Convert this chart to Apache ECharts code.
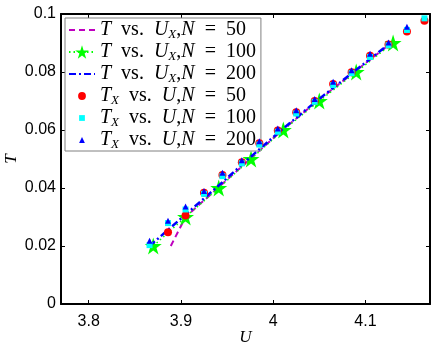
<!DOCTYPE html>
<html>
<head>
<meta charset="utf-8">
<script src="https://cdn.jsdelivr.net/npm/echarts@6/dist/echarts.min.js"></script>
<style>
  html, body { margin: 0; padding: 0; background: #fff; }
  #chart { width: 436px; height: 345px; }
</style>
</head>
<body>
<div id="chart"></div>
<script>
// ticks
const xTicks = [3.8, 3.9, 4, 4.1];

// T vs. U_X curves (one per N)
const lineT = [0.02, 0.03, 0.04, 0.05, 0.06, 0.07, 0.08, 0.09];
const lineU50 = [3.889, 3.905, 3.940, 3.975, 4.010, 4.048, 4.088, 4.128];
const lineU100 = [3.870, 3.905, 3.941, 3.976, 4.011, 4.050, 4.090, 4.130];
const lineU200 = [3.866, 3.902, 3.938, 3.973, 4.009, 4.047, 4.087, 4.127];

// T_X vs. U points (one per N)
const pointU = [3.866, 3.886, 3.905, 3.925, 3.945, 3.966, 3.985, 4.005, 4.025, 4.045, 4.065, 4.085, 4.105, 4.125, 4.145, 4.164];
const pointT50 = [null, 0.0247, 0.0305, 0.0384, 0.0445, 0.0489, 0.0554, 0.0598, 0.0661, 0.0700, 0.0759, 0.0799, 0.0856, 0.0895, 0.0940, 0.0977];
const pointT100 = [0.0203, 0.0279, 0.0326, 0.0380, 0.0441, 0.0485, 0.0550, 0.0594, 0.0657, 0.0697, 0.0755, 0.0796, 0.0852, 0.0892, 0.0945, 0.0985];
const pointT200 = [0.0218, 0.0287, 0.0336, 0.0390, 0.0453, 0.0496, 0.0561, 0.0605, 0.0668, 0.0707, 0.0766, 0.0806, 0.0863, 0.0902, 0.0956, null];

const seriesNames = [
  "T vs. U_X,N = 50",
  "T vs. U_X,N = 100",
  "T vs. U_X,N = 200",
  "T_X vs. U,N = 50",
  "T_X vs. U,N = 100",
  "T_X vs. U,N = 200",
];

const STAR =
  "path://M50 0 L61.23 34.55 L97.55 34.55 L68.16 55.9 L79.39 90.45 L50 69.1 L20.61 90.45 L31.84 55.9 L2.45 34.55 L38.77 34.55 Z";
// legend icons: the two corner moves pad the box so the mark stays small
const ICON_CIRCLE = "path://M0 0M100 100M27 50a23 23 0 1 0 46 0a23 23 0 1 0 -46 0z";
const ICON_SQUARE = "path://M0 0M100 100M33 33h34v34h-34z";
const ICON_TRIANGLE = "path://M0 0M100 100M50 32L67 67H33z";

const SERIF = "'Liberation Serif', 'DejaVu Serif', serif";
const SANS = "'Liberation Sans', Arial, sans-serif";

const zip = (xs, ys) =>
  xs.map((x, i) => [x, ys[i]]).filter((p) => p[1] !== null);

const legendText = (name) =>
  name
    .replace(/ /g, "\u2002")
    .replace(/([TUN])(_X)?/g, (m, a, b) => "{i|" + a + "}" + (b ? "{s|X}" : ""));

const myChart = echarts.init(document.getElementById("chart"));

const frameAxis = {
  axisLine: { show: true, onZero: false, lineStyle: { color: "#000", width: 2 } },
  axisTick: { inside: true, length: 4, lineStyle: { color: "#000", width: 1 } },
  splitLine: { show: false },
};

const hideSymbol = { color: "rgba(0,0,0,0)", borderWidth: 0 };

const option = {
  animation: false,
  grid: { left: 61, right: 6, top: 14, bottom: 41, outerBoundsMode: "none" },
  legend: {
    orient: "vertical",
    left: 65,
    top: 18,
    padding: [1, 5, 0, 3],
    itemGap: 0,
    itemWidth: 26,
    itemHeight: 17,
    backgroundColor: "#fff",
    borderColor: "#808080",
    borderWidth: 1,
    data: [
      { name: seriesNames[0], itemStyle: hideSymbol },
      { name: seriesNames[1] },
      { name: seriesNames[2], itemStyle: hideSymbol },
      { name: seriesNames[3], icon: ICON_CIRCLE },
      { name: seriesNames[4], icon: ICON_SQUARE },
      { name: seriesNames[5], icon: ICON_TRIANGLE },
    ],
    formatter: legendText,
    textStyle: {
      fontFamily: SERIF,
      fontSize: 20,
      lineHeight: 19,
      color: "#000",
      rich: {
        i: { fontFamily: SERIF, fontStyle: "italic", fontSize: 20, lineHeight: 19, color: "#000" },
        s: { fontFamily: SERIF, fontStyle: "italic", fontSize: 13, lineHeight: 10, color: "#000", padding: [9, 0, 0, 0] },
      },
    },
  },
  xAxis: [
    {
      type: "value",
      min: 3.77,
      max: 4.17,
      position: "bottom",
      ...frameAxis,
      axisTick: { ...frameAxis.axisTick, customValues: xTicks },
      axisLabel: { customValues: xTicks, color: "#000", fontFamily: SANS, fontSize: 16, margin: 10 },
      name: "U",
      nameLocation: "middle",
      nameGap: 25,
      nameMoveOverlap: false,
      nameTextStyle: { fontFamily: SERIF, fontStyle: "italic", fontSize: 17, color: "#000" },
    },
    {
      type: "value",
      min: 3.77,
      max: 4.17,
      position: "top",
      ...frameAxis,
      axisTick: { ...frameAxis.axisTick, customValues: xTicks },
      axisLabel: { show: false },
    },
  ],
  yAxis: [
    {
      type: "value",
      min: 0,
      max: 0.1,
      interval: 0.02,
      position: "left",
      ...frameAxis,
      axisLabel: { color: "#000", fontFamily: SANS, fontSize: 16, margin: 5 },
      name: "T",
      nameLocation: "middle",
      nameGap: 41,
      nameMoveOverlap: false,
      nameTextStyle: { fontFamily: SERIF, fontStyle: "italic", fontSize: 17, color: "#000" },
    },
    {
      type: "value",
      min: 0,
      max: 0.1,
      interval: 0.02,
      position: "right",
      ...frameAxis,
      axisLabel: { show: false },
    },
  ],
  series: [
    {
      name: seriesNames[0],
      type: "line",
      data: zip(lineU50, lineT),
      showSymbol: false,
      symbol: "none",
      lineStyle: { color: "#bf00bf", width: 2, type: [6, 4] },
      itemStyle: { color: "#bf00bf" },
      z: 2,
    },
    {
      name: seriesNames[1],
      type: "line",
      data: zip(lineU100, lineT),
      symbol: STAR,
      symbolSize: 17,
      lineStyle: { color: "#00ff00", width: 1.5, type: [1.5, 3] },
      itemStyle: { color: "#00ff00" },
      z: 3,
    },
    {
      name: seriesNames[2],
      type: "line",
      data: zip(lineU200, lineT),
      showSymbol: false,
      symbol: "none",
      lineStyle: { color: "#0000ff", width: 2.5, type: [7, 3, 2, 3] },
      itemStyle: { color: "#0000ff" },
      z: 4,
    },
    {
      name: seriesNames[3],
      type: "scatter",
      data: zip(pointU, pointT50),
      symbol: "circle",
      symbolSize: 8,
      itemStyle: { color: "#ff0000", opacity: 1 },
      z: 5,
    },
    {
      name: seriesNames[4],
      type: "scatter",
      data: zip(pointU, pointT100),
      symbol: "rect",
      symbolSize: 6,
      itemStyle: { color: "#00ffff", opacity: 1 },
      z: 6,
    },
    {
      name: seriesNames[5],
      type: "scatter",
      data: zip(pointU, pointT200),
      symbol: "triangle",
      symbolSize: 6,
      itemStyle: { color: "#0000ff", opacity: 1 },
      z: 7,
    },
  ],
};

myChart.setOption(option);
</script>
</body>
</html>
